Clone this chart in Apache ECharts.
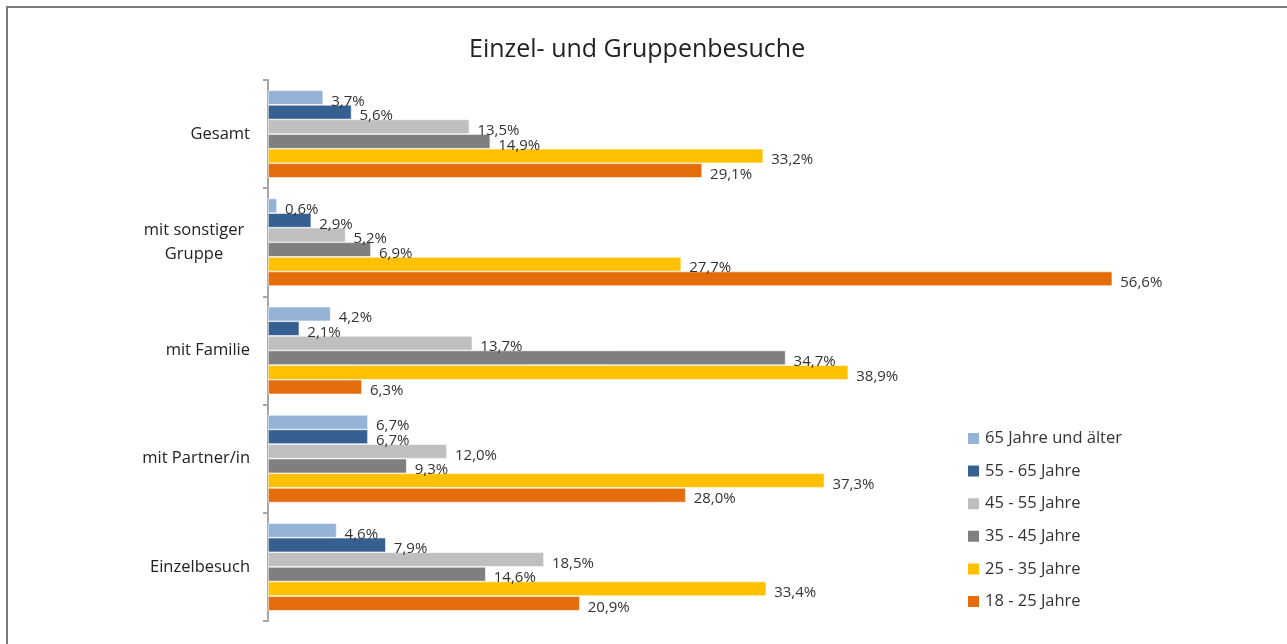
<!DOCTYPE html>
<html>
<head>
<meta charset="utf-8">
<title>Einzel- und Gruppenbesuche</title>
<script src="https://cdn.jsdelivr.net/npm/echarts@6/dist/echarts.min.js"></script>
<style>
    html, body { margin: 0; padding: 0; background: #fff; }
    #chart { width: 1287px; height: 644px; }
</style>
</head>
<body>
<div id="chart"></div>
<script>
    var categories = ['Gesamt', 'mit sonstiger Gruppe', 'mit Familie', 'mit Partner/in', 'Einzelbesuch'];
    var seriesNames = ['65 Jahre und älter', '55 - 65 Jahre', '45 - 55 Jahre', '35 - 45 Jahre', '25 - 35 Jahre', '18 - 25 Jahre'];
    var colors = ['#95b3d7', '#376092', '#bfbfbf', '#7f7f7f', '#ffc000', '#e46c0a'];

    // one array per age group, in category order
    var age65plus = [3.7, 0.6, 4.2, 6.7, 4.6];
    var age55to65 = [5.6, 2.9, 2.1, 6.7, 7.9];
    var age45to55 = [13.5, 5.2, 13.7, 12.0, 18.5];
    var age35to45 = [14.9, 6.9, 34.7, 9.3, 14.6];
    var age25to35 = [33.2, 27.7, 38.9, 37.3, 33.4];
    var age18to25 = [29.1, 56.6, 6.3, 28.0, 20.9];

    var allValues = [age65plus, age55to65, age45to55, age35to45, age25to35, age18to25];
    var FONT = '"Open Sans", "Noto Sans", sans-serif';

    var series = seriesNames.map(function (name, i) {
        return {
            name: name,
            type: 'bar',
            data: allValues[i],
            barGap: '0%',
            barCategoryGap: '19%',
            itemStyle: { color: colors[i], borderColor: '#ffffff', borderWidth: 0.6 },
            label: {
                show: true,
                position: 'right',
                distance: 8,
                offset: [0, 4],
                color: '#333',
                fontSize: 15,
                fontFamily: FONT,
                formatter: function (p) {
                    return p.value.toFixed(1).replace('.', ',') + '%';
                }
            }
        };
    });

    var myChart = echarts.init(document.getElementById('chart'));
    var option = {
        animation: false,
        backgroundColor: '#ffffff',
        title: {
            text: 'Einzel- und Gruppenbesuche',
            left: 464,
            top: 32,
            textStyle: { fontFamily: FONT, fontSize: 25, fontWeight: 'normal', color: '#222' }
        },
        graphic: [{
            type: 'rect',
            shape: { x: 7, y: 7, width: 1300, height: 660 },
            style: { fill: null, stroke: '#7a7a7a', lineWidth: 2 },
            silent: true
        }],
        legend: {
            orient: 'vertical',
            left: 961,
            top: 425,
            itemWidth: 13,
            itemHeight: 13,
            itemGap: 15.6,
            icon: 'rect',
            textStyle: { fontFamily: FONT, fontSize: 16.5, color: '#333' },
            data: seriesNames
        },
        grid: {
            left: 268,
            top: 80,
            bottom: 23,
            right: 124,
            containLabel: false
        },
        xAxis: {
            type: 'value',
            min: 0,
            max: 60,
            show: false
        },
        yAxis: {
            type: 'category',
            inverse: true,
            data: categories,
            axisLine: { show: true, lineStyle: { color: '#a6a6a6', width: 2 } },
            axisTick: { show: true, length: 5, lineStyle: { color: '#a6a6a6', width: 2 } },
            axisLabel: {
                margin: 18,
                color: '#222',
                fontSize: 16.5,
                fontFamily: FONT,
                formatter: function (v) {
                    if (v === 'mit sonstiger Gruppe') {
                        return '{c|mit sonstiger}\n{c|Gruppe}';
                    }
                    return v;
                },
                rich: {
                    c: { width: 112, align: 'center', fontSize: 16.5, fontFamily: FONT, color: '#222', lineHeight: 24 }
                }
            }
        },
        series: series
    };
    myChart.setOption(option);
    window.onresize = function () {
        myChart.resize();
    };
</script>
</body>
</html>
